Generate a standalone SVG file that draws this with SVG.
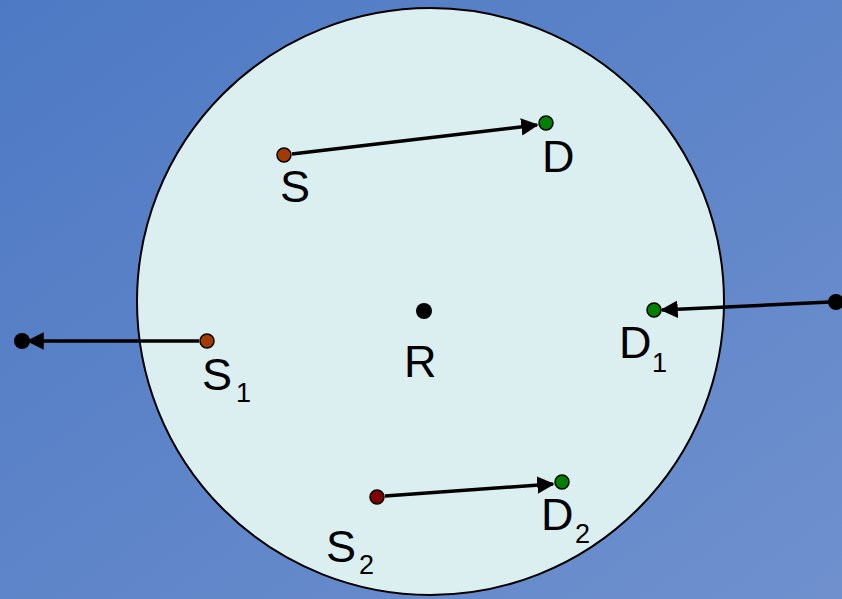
<svg xmlns="http://www.w3.org/2000/svg" width="842" height="599" viewBox="0 0 842 599">
<defs>
<linearGradient id="bg" x1="0" y1="0" x2="1" y2="1">
<stop offset="0" stop-color="#4d79c4"/>
<stop offset="1" stop-color="#6f90cd"/>
</linearGradient>
<marker id="ah" viewBox="0 0 10 10" refX="9" refY="5" markerWidth="5" markerHeight="5" orient="auto" markerUnits="strokeWidth">
<path d="M0,0 L10,5 L0,10 Z" fill="#000"/>
</marker>
<style>
.lbl{font-family:"Liberation Sans",Arial,sans-serif;font-size:45px;fill:#000}
.sub{font-family:"Liberation Sans",Arial,sans-serif;font-size:27px;fill:#000}
.conn{stroke:#000;stroke-width:3.5;fill:none;marker-end:url(#ah)}
.src{stroke:#000;stroke-width:1.5;fill:#a33a00}
.src2{stroke:#000;stroke-width:1.5;fill:#800000}
.dst{stroke:#000;stroke-width:1.5;fill:#008000}
.blk{fill:#000}
</style>
</defs>
<rect width="842" height="599" fill="url(#bg)"/>
<circle id="region" cx="430.5" cy="301.5" r="293.5" fill="#dbeef0" stroke="#000" stroke-width="2"/>
<g id="connectors">
<line class="conn" x1="292" y1="154" x2="537" y2="125"/>
<line class="conn" x1="199" y1="341" x2="28" y2="341"/>
<line class="conn" x1="830" y1="302" x2="662" y2="310"/>
<line class="conn" x1="385" y1="496" x2="553" y2="484"/>
</g>
<g id="node-S"><circle class="src" cx="284" cy="155" r="7"/><text class="lbl" x="280" y="202">S</text></g>
<g id="node-D"><circle class="dst" cx="546" cy="123" r="7"/><text class="lbl" x="542" y="172">D</text></g>
<g id="node-S1"><circle class="src" cx="207" cy="341" r="7"/><text class="lbl" x="202" y="390">S</text><text class="sub" x="236" y="402">1</text></g>
<g id="node-D1"><circle class="dst" cx="654" cy="310" r="7"/><text class="lbl" x="619" y="358">D</text><text class="sub" x="652" y="372">1</text></g>
<g id="node-S2"><circle class="src2" cx="377" cy="497" r="7"/><text class="lbl" x="326" y="562">S</text><text class="sub" x="359" y="574">2</text></g>
<g id="node-D2"><circle class="dst" cx="562" cy="482" r="7"/><text class="lbl" x="541" y="530">D</text><text class="sub" x="575" y="543">2</text></g>
<g id="node-R"><circle class="blk" cx="424" cy="311" r="8"/><text class="lbl" x="404" y="377">R</text></g>
<g id="ext-left"><circle class="blk" cx="22" cy="341" r="8"/></g>
<g id="ext-right"><circle class="blk" cx="836" cy="302" r="8"/></g>
</svg>
